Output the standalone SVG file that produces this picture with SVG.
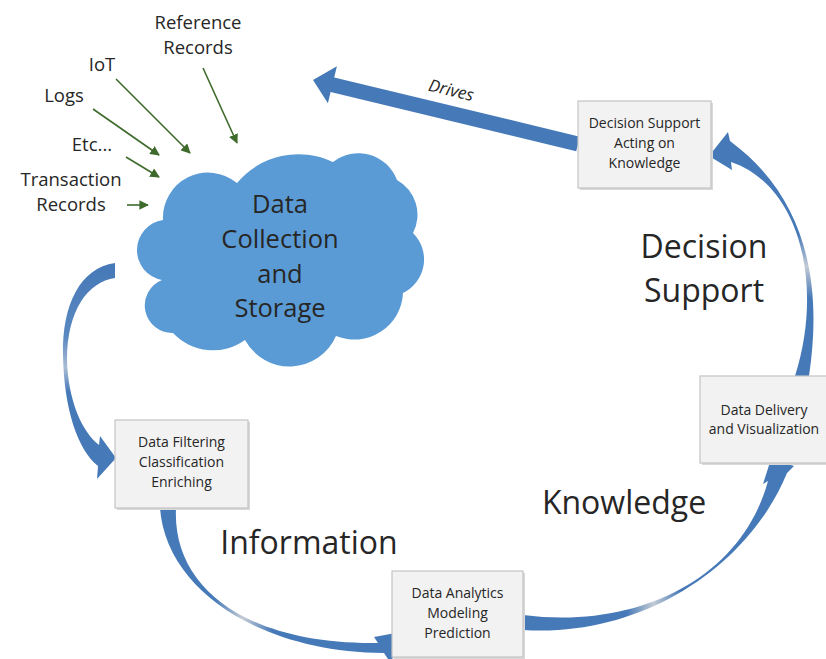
<svg xmlns="http://www.w3.org/2000/svg" width="826" height="659" viewBox="0 0 826 659">
  <defs>
    <style>
      .lbl { font-family: "Open Sans", "Liberation Sans", sans-serif; fill: #262626; text-anchor: middle; }
      .src { font-size: 18.5px; }
      .box-t { font-size: 14px; }
      .big { font-size: 32px; }
      .cloud-t { font-size: 25.5px; }
      .box { fill: #F2F2F2; stroke: #C4C4C4; stroke-width: 1.2; }
      .shadow { fill: #D9D9D9; }
      .flow { fill: #4679B8; }
      .feed { stroke: #3E6B2C; stroke-width: 1.6; fill: none; marker-end: url(#greenHead); }
    </style>
    <marker id="greenHead" viewBox="0 0 10 10" refX="9" refY="5" markerWidth="6" markerHeight="6" markerUnits="strokeWidth" orient="auto">
      <path d="M0,0 L10,5 L0,10 Z" fill="#3E6B2C"/>
    </marker>
    <!-- curved arrows fade to a pale band where they are thinnest -->
    <linearGradient id="fadeA" gradientUnits="userSpaceOnUse" x1="0" y1="265" x2="0" y2="470">
      <stop offset="0" stop-color="#4679B8"/>
      <stop offset="0.35" stop-color="#5A88C0"/>
      <stop offset="0.5" stop-color="#A9BCD3"/>
      <stop offset="0.62" stop-color="#4679B8"/>
      <stop offset="1" stop-color="#4679B8"/>
    </linearGradient>
    <linearGradient id="fadeB" gradientUnits="userSpaceOnUse" x1="160" y1="0" x2="410" y2="0">
      <stop offset="0" stop-color="#4679B8"/>
      <stop offset="0.22" stop-color="#4679B8"/>
      <stop offset="0.33" stop-color="#C3CBD5"/>
      <stop offset="0.45" stop-color="#4679B8"/>
      <stop offset="1" stop-color="#4679B8"/>
    </linearGradient>
    <linearGradient id="fadeC" gradientUnits="userSpaceOnUse" x1="523" y1="0" x2="795" y2="0">
      <stop offset="0" stop-color="#4679B8"/>
      <stop offset="0.38" stop-color="#4679B8"/>
      <stop offset="0.48" stop-color="#C3CBD5"/>
      <stop offset="0.58" stop-color="#4679B8"/>
      <stop offset="1" stop-color="#4679B8"/>
    </linearGradient>
    <linearGradient id="fadeD" gradientUnits="userSpaceOnUse" x1="0" y1="376" x2="0" y2="132">
      <stop offset="0" stop-color="#4679B8"/>
      <stop offset="0.32" stop-color="#4679B8"/>
      <stop offset="0.45" stop-color="#C3CBD5"/>
      <stop offset="0.58" stop-color="#4679B8"/>
      <stop offset="1" stop-color="#4679B8"/>
    </linearGradient>
  </defs>

  <rect width="826" height="659" fill="#FFFFFF"/>

  <!-- input feeds into the cloud -->
  <g id="sources">
    <text class="lbl src" x="198" y="29">Reference</text>
    <text class="lbl src" x="198" y="54">Records</text>
    <text class="lbl src" x="102" y="71">IoT</text>
    <text class="lbl src" x="64" y="102">Logs</text>
    <text class="lbl src" x="92" y="151">Etc...</text>
    <text class="lbl src" x="71" y="186">Transaction</text>
    <text class="lbl src" x="71" y="211">Records</text>
  </g>

  <g id="connectors">
    <!-- thin green feed arrows -->
    <line class="feed" x1="203" y1="68" x2="237" y2="143"/>
    <line class="feed" x1="116" y1="79" x2="190" y2="153"/>
    <line class="feed" x1="93" y1="109" x2="159" y2="155"/>
    <line class="feed" x1="126" y1="157" x2="159" y2="177"/>
    <line class="feed" x1="127" y1="205" x2="148" y2="205"/>

    <!-- Drives: decision support back to the data store -->
    <polygon class="flow" points="579.8,136.7 334.2,77.4 336.9,66.2 313,80 327.9,103.2 330.6,92.0 576.2,151.3"/>
    <text class="lbl" x="451" y="96" font-size="17" font-style="italic" transform="rotate(13.6 451 91)">Drives</text>

    <!-- cloud to filtering -->
    <path fill="url(#fadeA)" d="M115,263 C80,268 62,305 63,355 C64,410 78,450 98,466 L97,479 L116,458 L100,436 L99,445 C82,432 68,400 67,360 C67,310 88,282 115,278 Z"/>
    <!-- filtering to analytics -->
    <path fill="url(#fadeB)" d="M160,508 C166,590 260,652 384,653 L390,662 L412,630 L374,637 L378,643 C250,645 172,590 176,508 Z"/>
    <!-- analytics to delivery -->
    <path fill="url(#fadeC)" d="M523,615 C640,630 742,577 768,481 L763,484 L771,459 L794,466 L787,473 C748,568 640,638 523,630 Z"/>
    <!-- delivery to decision support -->
    <path fill="url(#fadeD)" d="M809,376 C822,290 810,200 730,141 L728,132 L709,156 L732,170 L731,162 C800,185 824,285 795,376 Z"/>
  </g>

  <g id="data-collection">
    <path fill="#5B9BD5" d="M163,220 A45.2,45.2 0 0 1 237,183 A80,80 0 0 1 333,162 A41.2,41.2 0 0 1 397,180 A39.6,39.6 0 0 1 413,233 A37.2,37.2 0 0 1 403,293 A48.7,48.7 0 0 1 336,336 A50.7,50.7 0 0 1 245,340 A55,55 0 0 1 173,333 A27.5,27.5 0 0 1 162,280 A30.4,30.4 0 0 1 163,220 Z"/>
    <text class="lbl cloud-t" x="280" y="213">Data</text>
    <text class="lbl cloud-t" x="280" y="248">Collection</text>
    <text class="lbl cloud-t" x="280" y="283">and</text>
    <text class="lbl cloud-t" x="280" y="317">Storage</text>
  </g>

  <g id="filtering">
    <rect class="shadow" x="117" y="422" width="133" height="88"/>
    <rect class="box" x="115" y="420" width="133" height="88"/>
    <text class="lbl box-t" x="181.5" y="447">Data Filtering</text>
    <text class="lbl box-t" x="181.5" y="467">Classification</text>
    <text class="lbl box-t" x="181.5" y="487">Enriching</text>
  </g>

  <g id="analytics">
    <rect class="shadow" x="394" y="573" width="131" height="86"/>
    <rect class="box" x="392" y="571" width="131" height="86"/>
    <text class="lbl box-t" x="457.5" y="598">Data Analytics</text>
    <text class="lbl box-t" x="457.5" y="618">Modeling</text>
    <text class="lbl box-t" x="457.5" y="638">Prediction</text>
  </g>

  <g id="delivery">
    <rect class="shadow" x="702" y="378" width="126" height="87"/>
    <rect class="box" x="700" y="376" width="128" height="87"/>
    <text class="lbl box-t" x="764" y="415">Data Delivery</text>
    <text class="lbl box-t" x="764" y="434">and Visualization</text>
  </g>

  <g id="decision">
    <rect class="shadow" x="580" y="103" width="133" height="87"/>
    <rect class="box" x="578" y="101" width="133" height="87"/>
    <text class="lbl box-t" x="644.5" y="128">Decision Support</text>
    <text class="lbl box-t" x="644.5" y="148">Acting on</text>
    <text class="lbl box-t" x="644.5" y="168">Knowledge</text>
  </g>

  <!-- stage captions -->
  <g id="stages">
    <text class="lbl big" x="309" y="554">Information</text>
    <text class="lbl big" x="624" y="514">Knowledge</text>
    <text class="lbl big" x="704" y="258">Decision</text>
    <text class="lbl big" x="704" y="302">Support</text>
  </g>
</svg>
